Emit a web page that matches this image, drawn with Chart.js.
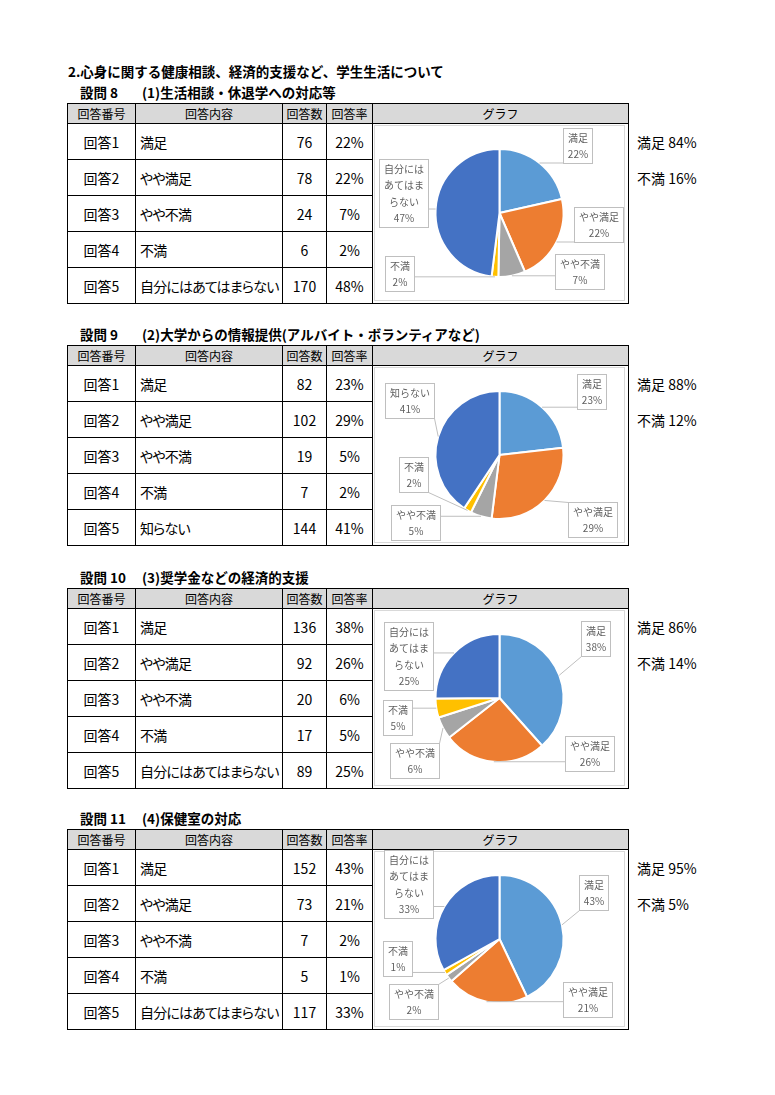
<!DOCTYPE html>
<html lang="ja">
<head>
<meta charset="utf-8">
<script src="https://cdn.jsdelivr.net/npm/chart.js@4.4.1/dist/chart.umd.min.js"></script>
<style>
  body { margin: 0; width: 775px; height: 1095px; background: #fff; position: relative;
         font-family: "Noto Sans CJK JP", "Noto Sans", sans-serif; color: #000; }
  .title { position: absolute; left: 68px; top: 62px; font-size: 13.5px; font-weight: bold; line-height: 18px; white-space: nowrap; }
  .qhead { position: absolute; font-size: 13.5px; font-weight: bold; line-height: 18px; white-space: nowrap; }
  table.tbl { position: absolute; left: 67px; border-collapse: collapse; table-layout: fixed; width: 561px; }
  .tbl th { background: #d9d9d9; font-weight: normal; font-size: 12px; line-height: 14px; height: 19px; border: 1px solid #000; padding: 0; }
  .tbl td { border: 1px solid #000; height: 35px; font-size: 14px; line-height: 16px; padding: 0; white-space: nowrap; overflow: hidden; }
  .c { text-align: center; }
  .l { text-align: left; padding-left: 4px !important; font-feature-settings: "palt"; letter-spacing: -0.8px; }
  .summary { position: absolute; left: 637px; font-size: 14px; line-height: 16px; white-space: nowrap; }
  canvas.pie { position: absolute; left: 372px; }
</style>
</head>
<body>
<div class="title">2.心身に関する健康相談、経済的支援など、学生生活について</div>
<div id="page"></div>
<script>
// 表の見出し
const headers = ['回答番号', '回答内容', '回答数', '回答率', 'グラフ'];
const answerNos = ['回答1', '回答2', '回答3', '回答4', '回答5'];
const summaryNames = ['満足', '不満'];
const sliceColors = ['#5b9bd5', '#ed7d31', '#a5a5a5', '#ffc000', '#4472c4'];

// 設問 8
const q8Title = '(1)生活相談・休退学への対応等';
const q8Labels = ['満足', 'やや満足', 'やや不満', '不満', '自分にはあてはまらない'];
const q8Counts = [76, 78, 24, 6, 170];
const q8Rates = [22, 22, 7, 2, 48];
const q8ChartPct = [22, 22, 7, 2, 47];
const q8Summary = [84, 16];

// 設問 9
const q9Title = '(2)大学からの情報提供(アルバイト・ボランティアなど)';
const q9Labels = ['満足', 'やや満足', 'やや不満', '不満', '知らない'];
const q9Counts = [82, 102, 19, 7, 144];
const q9Rates = [23, 29, 5, 2, 41];
const q9ChartPct = [23, 29, 5, 2, 41];
const q9Summary = [88, 12];

// 設問 10
const q10Title = '(3)奨学金などの経済的支援';
const q10Labels = ['満足', 'やや満足', 'やや不満', '不満', '自分にはあてはまらない'];
const q10Counts = [136, 92, 20, 17, 89];
const q10Rates = [38, 26, 6, 5, 25];
const q10ChartPct = [38, 26, 6, 5, 25];
const q10Summary = [86, 14];

// 設問 11
const q11Title = '(4)保健室の対応';
const q11Labels = ['満足', 'やや満足', 'やや不満', '不満', '自分にはあてはまらない'];
const q11Counts = [152, 73, 7, 5, 117];
const q11Rates = [43, 21, 2, 1, 33];
const q11ChartPct = [43, 21, 2, 1, 33];
const q11Summary = [95, 5];

// ラベル枠の位置（円の中心からのずれ）
const callout8 = [[78, -68], [99, 11], [80, 58], [-100, 60], [-96, -20]];
const callout9 = [[92, -64], [93, 64], [-84, 67], [-86, 19], [-90, -55]];
const callout10 = [[96, -60], [90, 55], [-85, 62], [-102, 19], [-91, -42]];
const callout11 = [[94, -47], [88, 60], [-86, 62], [-102, 19], [-91, -55]];

const sections = [
  { no: 8, title: q8Title, labels: q8Labels, counts: q8Counts, rates: q8Rates, pct: q8ChartPct, summary: q8Summary, callout: callout8, top: 103 },
  { no: 9, title: q9Title, labels: q9Labels, counts: q9Counts, rates: q9Rates, pct: q9ChartPct, summary: q9Summary, callout: callout9, top: 345 },
  { no: 10, title: q10Title, labels: q10Labels, counts: q10Counts, rates: q10Rates, pct: q10ChartPct, summary: q10Summary, callout: callout10, top: 588 },
  { no: 11, title: q11Title, labels: q11Labels, counts: q11Counts, rates: q11Rates, pct: q11ChartPct, summary: q11Summary, callout: callout11, top: 829 }
];

// 4文字ごとに折り返す
function wrapLabel(s) {
  const out = [];
  for (let i = 0; i < s.length; i += 4) out.push(s.slice(i, i + 4));
  return out;
}

// Excel風の吹き出しラベル
const calloutPlugin = {
  id: 'callout',
  beforeDraw(chart) {
    const ctx = chart.ctx;
    ctx.save();
    ctx.strokeStyle = '#d9d9d9';
    ctx.lineWidth = 1;
    ctx.strokeRect(2.5, 1.5, chart.width - 5, chart.height - 4);
    ctx.restore();
  },
  afterDatasetsDraw(chart, args, opts) {
    const ctx = chart.ctx;
    const meta = chart.getDatasetMeta(0);
    const labels = chart.data.labels;
    ctx.save();
    ctx.font = '10px "Noto Sans CJK JP", sans-serif';
    ctx.textAlign = 'center';
    ctx.textBaseline = 'middle';
    meta.data.forEach((arc, i) => {
      const p = arc.getProps(['x', 'y', 'startAngle', 'endAngle', 'outerRadius'], true);
      const mid = (p.startAngle + p.endAngle) / 2;
      const ax = p.x + Math.cos(mid) * p.outerRadius;
      const ay = p.y + Math.sin(mid) * p.outerRadius;
      const lines = wrapLabel(labels[i]).concat([opts.pct[i] + '%']);
      let w = 0;
      lines.forEach(t => { w = Math.max(w, ctx.measureText(t).width); });
      w = Math.round(w + 9);
      const lh = 16.5;
      const h = Math.round(lines.length * lh + 2);
      const bx = Math.round(p.x + opts.pos[i][0] - w / 2) + 0.5;
      const by = Math.round(p.y + opts.pos[i][1] - h / 2) + 0.5;
      // 引き出し線
      const nx = Math.min(Math.max(ax, bx), bx + w);
      const ny = Math.min(Math.max(ay, by), by + h);
      if (Math.hypot(nx - ax, ny - ay) > 5) {
        ctx.strokeStyle = '#bfbfbf';
        ctx.lineWidth = 1;
        ctx.beginPath();
        ctx.moveTo(ax, ay);
        ctx.lineTo(nx, ny);
        ctx.stroke();
      }
      ctx.fillStyle = '#fff';
      ctx.fillRect(bx, by, w, h);
      ctx.strokeStyle = '#bfbfbf';
      ctx.strokeRect(bx, by, w, h);
      ctx.fillStyle = '#5f5f5f';
      lines.forEach((t, k) => {
        ctx.fillText(t, bx + w / 2, by + 1 + lh * (k + 0.5));
      });
    });
    ctx.restore();
  }
};

const page = document.getElementById('page');

sections.forEach(sec => {
  const head1 = document.createElement('div');
  head1.className = 'qhead';
  head1.style.left = '80px';
  head1.style.top = (sec.top - 20) + 'px';
  head1.textContent = '設問 ' + sec.no;
  page.appendChild(head1);

  const head2 = document.createElement('div');
  head2.className = 'qhead';
  head2.style.left = '142px';
  head2.style.top = (sec.top - 20) + 'px';
  head2.textContent = sec.title;
  page.appendChild(head2);

  const tbl = document.createElement('table');
  tbl.className = 'tbl';
  tbl.style.top = sec.top + 'px';
  let html = '<colgroup><col style="width:68px"><col style="width:147px"><col style="width:44px"><col style="width:46px"><col style="width:256px"></colgroup>';
  html += '<tr>' + headers.map(hd => '<th>' + hd + '</th>').join('') + '</tr>';
  answerNos.forEach((no, i) => {
    html += '<tr><td class="c">' + no + '</td><td class="l">' + sec.labels[i] + '</td>' +
            '<td class="c">' + sec.counts[i] + '</td><td class="c">' + sec.rates[i] + '%</td>' +
            (i === 0 ? '<td rowspan="5"></td>' : '') + '</tr>';
  });
  tbl.innerHTML = html;
  page.appendChild(tbl);

  sec.summary.forEach((v, k) => {
    const s = document.createElement('div');
    s.className = 'summary';
    s.style.top = (sec.top + 31 + k * 36) + 'px';
    s.textContent = summaryNames[k] + ' ' + v + '%';
    page.appendChild(s);
  });

  const cv = document.createElement('canvas');
  cv.className = 'pie';
  cv.width = 255;
  cv.height = 179;
  cv.style.top = (sec.top + 21) + 'px';
  page.appendChild(cv);

  new Chart(cv.getContext('2d'), {
    type: 'pie',
    data: {
      labels: sec.labels,
      datasets: [{
        data: sec.counts,
        backgroundColor: sliceColors,
        borderColor: '#ffffff',
        borderWidth: 2
      }]
    },
    options: {
      responsive: false,
      animation: false,
      devicePixelRatio: 1,
      layout: { padding: { top: 24, bottom: 25 } },
      plugins: {
        legend: { display: false },
        tooltip: { enabled: false },
        callout: { pct: sec.pct, pos: sec.callout }
      }
    },
    plugins: [calloutPlugin]
  });
});
</script>
</body>
</html>
